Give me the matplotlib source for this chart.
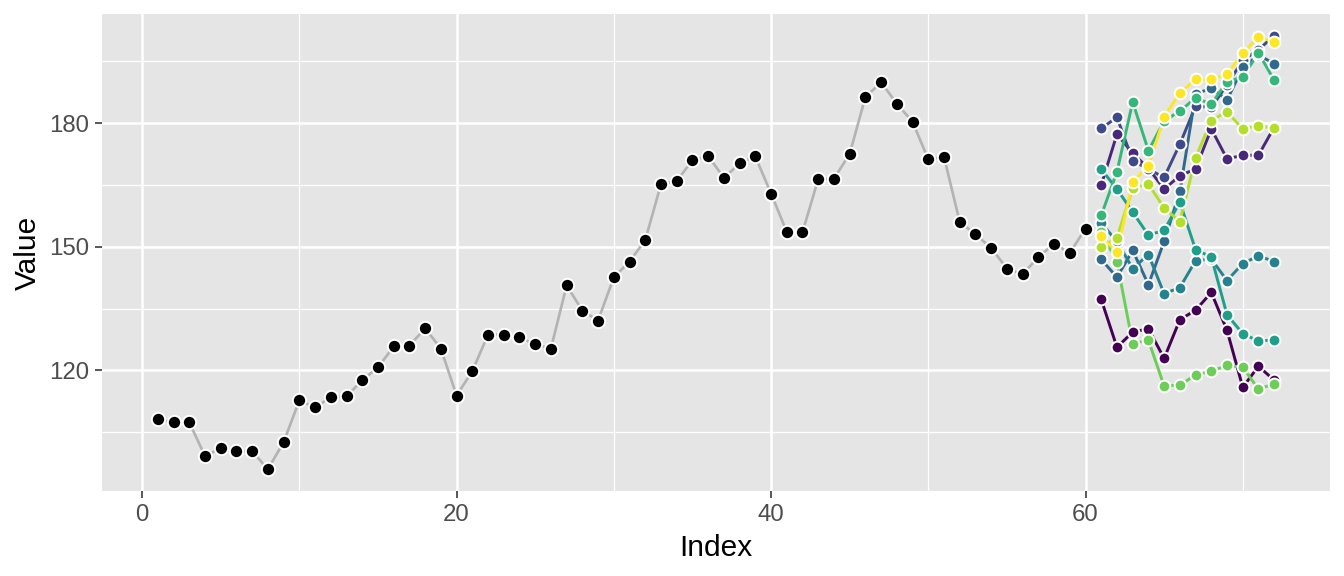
"""Random-walk series with 10 simulated continuation paths (ggplot-like look)."""
import numpy as np
import matplotlib
matplotlib.use("Agg")
import matplotlib.pyplot as plt

plt.rcParams["font.family"] = ["Liberation Sans", "DejaVu Sans"]

# ── data ───────────────────────────────────────────────────────────────────
history = [108.1, 107.4, 107.4, 99.2, 101.1, 100.4, 100.4, 96.0, 102.6, 112.7,
           111.0, 113.5, 113.7, 117.6, 120.7, 125.8, 126.0, 130.2, 125.3, 113.9,
           119.8, 128.7, 128.7, 128.0, 126.3, 125.3, 140.6, 134.5, 132.1, 142.6,
           146.4, 151.6, 165.2, 165.9, 171.0, 172.0, 166.7, 170.2, 171.9, 162.9,
           153.6, 153.5, 166.4, 166.5, 172.5, 186.3, 189.9, 184.7, 180.3, 171.2,
           171.8, 156.0, 153.0, 149.7, 144.7, 143.3, 147.5, 150.7, 148.5, 154.4]

path_1 = [137.2, 125.6, 129.3, 130.1, 122.9, 132.3, 134.6, 138.9, 129.7, 115.9, 121.0, 117.6]
path_2 = [165.0, 177.3, 172.7, 169.0, 164.0, 167.2, 168.9, 178.6, 171.3, 172.2, 172.2, 179.0]
path_3 = [178.7, 181.4, 170.9, 168.8, 166.8, 174.9, 184.1, 183.8, 189.3, 195.2, 197.8, 201.2]
path_4 = [146.9, 142.6, 149.1, 140.8, 151.3, 163.4, 187.0, 188.5, 185.6, 193.5, 196.5, 194.4]
path_5 = [155.7, 151.3, 144.7, 148.1, 138.6, 140.1, 146.6, 147.0, 141.8, 145.9, 147.8, 146.4]
path_6 = [168.8, 164.0, 158.4, 152.8, 154.0, 160.8, 149.3, 147.5, 133.5, 128.9, 127.1, 127.4]
path_7 = [157.6, 168.2, 185.1, 173.3, 180.5, 182.9, 186.1, 184.6, 190.0, 191.2, 197.0, 190.4]
path_8 = [153.5, 146.3, 126.5, 127.3, 116.2, 116.4, 118.9, 119.8, 121.2, 120.8, 115.4, 116.8]
path_9 = [149.9, 152.2, 164.2, 165.2, 159.4, 156.1, 171.6, 180.6, 182.8, 178.5, 179.4, 178.7]
path_10 = [152.5, 148.7, 165.7, 169.6, 181.5, 187.3, 190.6, 190.6, 191.9, 196.9, 201.0, 199.6]
paths = [path_1, path_2, path_3, path_4, path_5, path_6, path_7, path_8, path_9, path_10]

viridis10 = ["#440154", "#482878", "#3E4A89", "#31688E", "#26828E",
             "#1F9E89", "#35B779", "#6DCD59", "#B4DE2C", "#FDE725"]

x_hist = np.arange(1, len(history) + 1)
x_fc = np.arange(len(history) + 1, len(history) + len(path_1) + 1)

# ── plot ───────────────────────────────────────────────────────────────────
fig = plt.figure(figsize=(7, 3), dpi=192)
ax = fig.add_axes([0.0759, 0.1476, 0.9896 - 0.0759, 0.9757 - 0.1476])
ax.set_facecolor("#E5E5E5")
for s in ax.spines.values():
    s.set_visible(False)

ax.plot(x_hist, history, color="#B3B3B3", lw=1.0, zorder=2)
ax.plot(x_hist, history, "o", color="black", ms=5.0, mec="white", mew=0.75, zorder=3)

for p, c in zip(paths, viridis10):
    ax.plot(x_fc, p, color=c, lw=1.1, zorder=4)
for p, c in zip(paths, viridis10):
    ax.plot(x_fc, p, "o", color=c, ms=4.4, mec="white", mew=0.75, zorder=5)

allv = history + [v for p in paths for v in p]
lo, hi = min(allv), max(allv)
pad = 0.05 * (hi - lo)
ax.set_ylim(lo - pad, hi + pad)
xpad = 0.05 * (x_fc[-1] - 1)
ax.set_xlim(1 - xpad, x_fc[-1] + xpad)

ax.set_xticks([0, 20, 40, 60])
ax.set_xticks([10, 30, 50, 70], minor=True)
ax.set_yticks([120, 150, 180])
ax.set_yticks([105, 135, 165, 195], minor=True)
ax.grid(True, which="major", color="white", lw=0.95, zorder=0)
ax.grid(True, which="minor", color="white", lw=0.48, zorder=0)
ax.set_axisbelow(True)
ax.tick_params(which="major", length=2.75, width=0.6, color="#333333",
               labelsize=9, labelcolor="#4D4D4D", pad=2.2)
ax.tick_params(which="minor", length=0)

ax.set_xlabel("Index", fontsize=11.2, labelpad=3)
ax.set_ylabel("Value", fontsize=11.2, labelpad=2.5)

fig.savefig("out.png", dpi=192)
